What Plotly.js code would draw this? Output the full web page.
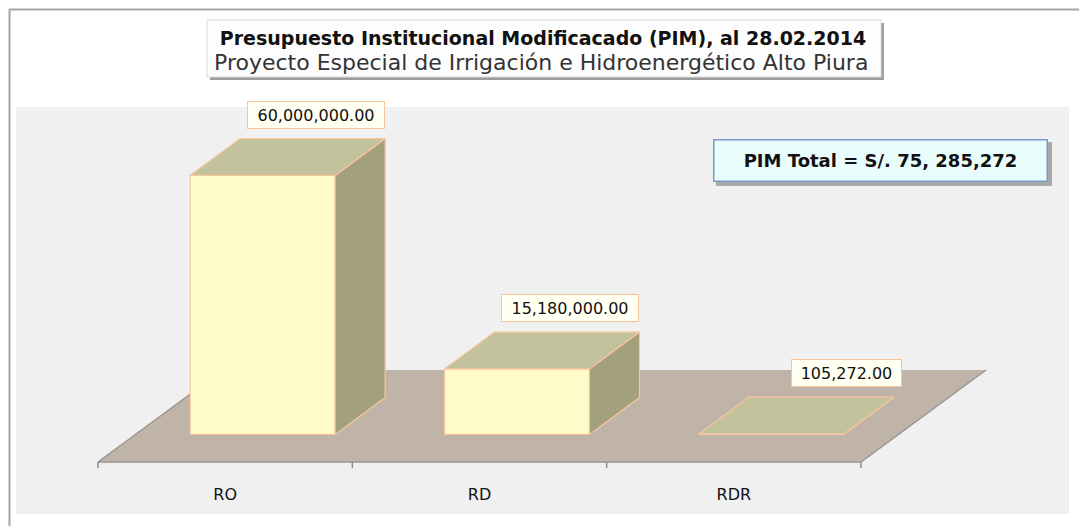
<!DOCTYPE html>
<html><head><meta charset="utf-8">
<script src="https://cdn.plot.ly/plotly-3.0.1.min.js"></script>
<style>html,body{margin:0;padding:0;background:#fff}#chart{width:1079px;height:526px}</style>
</head><body><div id="chart"></div>
<script>
// ---- data ----
const categories = ['RO', 'RD', 'RDR'];
const values = [60000000, 15180000, 105272];
const titleText = 'Presupuesto Institucional Modificacado (PIM), al 28.02.2014';
const subtitleText = 'Proyecto Especial de Irrigación e Hidroenergético Alto Piura';
const totalText = 'PIM Total = S/. 75, 285,272';

// ---- projection / layout settings ----
const W = 1079, H = 526;
const PXX = 254.33;             // px per category
const X0PX = 98;                // px of category axis start
const PXY = 259 / 60000000;     // px per value unit
const Y0PX = 462;               // px of floor front edge
const DX = 125 / PXX;           // depth offset (category units)
const DY = 92 / PXY;            // depth offset (value units)
const BAR_W = 0.57, D0 = 0.30, D1 = 0.70;
const FONT = 'DejaVu Sans';
const EDGE = '#f7c59c';

function P(xc, v, d) { return [xc + d * DX, v + d * DY]; }
function poly(pts, fill, lineColor, lw) {
  const xs = pts.map(p => p[0]), ys = pts.map(p => p[1]);
  xs.push(xs[0]); ys.push(ys[0]);
  return {x: xs, y: ys, type: 'scatter', mode: 'lines', fill: 'toself', fillcolor: fill,
    line: {color: lineColor, width: lw}, hoverinfo: 'skip', showlegend: false};
}
const px2x = p => p / W, py2y = p => 1 - p / H;

const traces = [];
// floor
const n = categories.length;
traces.push(poly([P(0, 0, 0), P(n, 0, 0), P(n, 0, 1), P(0, 0, 1)], '#c0b3a8', 'rgba(0,0,0,0)', 0));
// floor edges
traces.push({x: [P(0,0,1)[0], P(0,0,0)[0], P(n,0,0)[0], P(n,0,1)[0]],
  y: [P(0,0,1)[1], P(0,0,0)[1], P(n,0,0)[1], P(n,0,1)[1]],
  type: 'scatter', mode: 'lines', line: {color: '#9a9590', width: 1.5}, hoverinfo: 'skip', showlegend: false});
// ticks at category boundaries
const tx = [], ty = [];
for (let i = 0; i <= n; i++) { tx.push(i, i, null); ty.push(0, -6 / PXY, null); }
traces.push({x: tx, y: ty, type: 'scatter', mode: 'lines', line: {color: '#8c8c8c', width: 1.5},
  hoverinfo: 'skip', showlegend: false});

// bars
const annotations = [];
values.forEach((v, i) => {
  const xl = i + 0.5 - BAR_W / 2, xr = i + 0.5 + BAR_W / 2;
  traces.push(poly([P(xl, 0, D0), P(xr, 0, D0), P(xr, v, D0), P(xl, v, D0)], '#fffccc', EDGE, 1.2));
  traces.push(poly([P(xr, 0, D0), P(xr, 0, D1), P(xr, v, D1), P(xr, v, D0)], '#a3a07e', EDGE, 1.2));
  traces.push(poly([P(xl, v, D0), P(xr, v, D0), P(xr, v, D1), P(xl, v, D1)], '#c2c29c', EDGE, 1.2));
  const lbl = v.toLocaleString('en-US', {minimumFractionDigits: 2, maximumFractionDigits: 2});
  const tip = P(xr, v, D1);
  annotations.push({x: tip[0], y: tip[1], xref: 'x', yref: 'y', text: lbl, showarrow: false,
    xanchor: 'right', yanchor: 'bottom', yshift: 10, xshift: (i === 2 ? 8 : 0),
    font: {family: FONT, size: 16, color: '#111'}, bgcolor: '#fffff2', bordercolor: EDGE,
    borderwidth: 1, borderpad: 4, width: lbl.length * 9 + 11, height: 18});
});

// subtitle
annotations.push({xref: 'paper', yref: 'paper', x: px2x(541), y: py2y(63), text: subtitleText,
  showarrow: false, xanchor: 'center', yanchor: 'middle', font: {family: FONT, size: 22, color: '#333'}});
// PIM total box
annotations.push({xref: 'paper', yref: 'paper', x: px2x(880), y: py2y(160.5), text: '<b>' + totalText + '</b>',
  showarrow: false, xanchor: 'center', yanchor: 'middle', font: {family: FONT, size: 18, color: '#111'},
  bgcolor: '#e9fdfd', bordercolor: '#7a98cc', borderwidth: 1.5, borderpad: 0, width: 332, height: 40});

const shapes = [
  // outer frame
  {type: 'line', xref: 'paper', yref: 'paper', x0: px2x(9.5), x1: px2x(9.5), y0: py2y(9), y1: 0, line: {color: '#a6a6a6', width: 2}, layer: 'below'},
  {type: 'line', xref: 'paper', yref: 'paper', x0: px2x(9), x1: px2x(1079), y0: py2y(9.5), y1: py2y(9.5), line: {color: '#a6a6a6', width: 2}, layer: 'below'},
  // plot panel
  {type: 'rect', xref: 'paper', yref: 'paper', x0: px2x(16), x1: px2x(1069), y0: py2y(107), y1: py2y(514), fillcolor: '#f0f0f0', line: {width: 0}, layer: 'below'},
  // title box shadow + box
  {type: 'rect', xref: 'paper', yref: 'paper', x0: px2x(210), x1: px2x(884), y0: py2y(23), y1: py2y(80), fillcolor: '#9d9d9d', line: {width: 0}, layer: 'above'},
  {type: 'rect', xref: 'paper', yref: 'paper', x0: px2x(207), x1: px2x(881), y0: py2y(20), y1: py2y(77), fillcolor: '#fdfdfd', line: {color: '#d9d9d9', width: 1}, layer: 'above'},
  // total box shadow
  {type: 'rect', xref: 'paper', yref: 'paper', x0: px2x(716), x1: px2x(1052), y0: py2y(142), y1: py2y(186), fillcolor: '#a9a9a9', line: {width: 0}, layer: 'above'}
];

const layout = {
  width: W, height: H, margin: {l: 0, r: 0, t: 0, b: 0},
  paper_bgcolor: '#ffffff', plot_bgcolor: 'rgba(0,0,0,0)',
  showlegend: false,
  title: {text: '<b>' + titleText + '</b>', font: {family: FONT, size: 19, color: '#111'},
    xref: 'paper', x: px2x(543), xanchor: 'center', yref: 'container', y: py2y(38), yanchor: 'middle'},
  xaxis: {range: [-X0PX / PXX, (W - X0PX) / PXX], showgrid: false, zeroline: false, showline: false,
    tickvals: categories.map((c, i) => i + 0.5), ticktext: categories, ticks: '',
    anchor: 'free', position: 1 - Y0PX / H, ticklabelstandoff: 21,
    tickfont: {family: FONT, size: 16, color: '#111'}, fixedrange: true},
  yaxis: {range: [-(H - Y0PX) / PXY, Y0PX / PXY], visible: false, fixedrange: true},
  shapes: shapes, annotations: annotations
};
Plotly.newPlot('chart', traces, layout, {displayModeBar: false, staticPlot: true});
</script></body></html>
